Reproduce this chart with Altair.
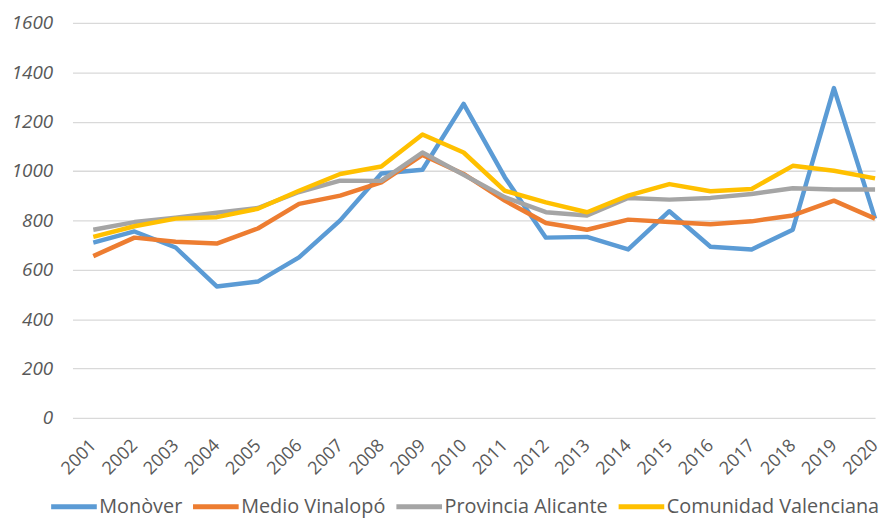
import altair as alt
import pandas as pd

years = list(range(2001, 2021))
series_names = ["Monòver", "Medio Vinalopó", "Provincia Alicante", "Comunidad Valenciana"]
colors = ["#5B9BD5", "#ED7D31", "#A5A5A5", "#FFC000"]

monover = [710, 755, 690, 532, 552, 650, 800, 990, 1005, 1272, 975, 730, 733, 682, 837, 693, 682, 762, 1336, 807]
medio = [655, 730, 713, 706, 767, 867, 900, 954, 1065, 988, 880, 789, 762, 803, 793, 784, 796, 820, 880, 807]
provincia = [762, 793, 811, 831, 850, 915, 961, 960, 1075, 985, 894, 833, 820, 891, 884, 891, 907, 930, 925, 925]
comunidad = [733, 776, 807, 813, 847, 920, 988, 1018, 1148, 1075, 920, 873, 833, 900, 947, 918, 927, 1021, 1001, 970]

y_ticks = [0, 200, 400, 600, 800, 1000, 1200, 1400, 1600]

rows = []
for name, vals in zip(series_names, [monover, medio, provincia, comunidad]):
    for yr, v in zip(years, vals):
        rows.append({"Año": yr, "Valor": v, "Serie": name})
df = pd.DataFrame(rows)

chart = (
    alt.Chart(df)
    .mark_line(strokeWidth=4.5, strokeJoin="round")
    .encode(
        x=alt.X(
            "Año:Q",
            scale=alt.Scale(domain=[2000.494, 2020.0], nice=False, zero=False),
            axis=alt.Axis(
                values=years,
                format="d",
                title=None,
                grid=False,
                ticks=False,
                domain=False,
                labelAngle=-45,
                labelAlign="right",
                labelBaseline="middle",
                labelPadding=25,
                labelFont="Open Sans",
                labelFontSize=18,
                labelColor="#595959",
                labelOverlap=False,
            ),
        ),
        y=alt.Y(
            "Valor:Q",
            scale=alt.Scale(domain=[0, 1600], nice=False),
            axis=alt.Axis(
                values=y_ticks,
                format="d",
                title=None,
                ticks=False,
                domain=False,
                labelPadding=20,
                labelFont="Open Sans",
                labelFontSize=19,
                labelFontStyle="italic",
                labelColor="#595959",
                gridColor="#d9d9d9",
                gridWidth=1.3,
            ),
        ),
        color=alt.Color(
            "Serie:N",
            scale=alt.Scale(domain=series_names, range=colors),
            sort=series_names,
            legend=alt.Legend(
                title=None,
                orient="none",
                direction="horizontal",
                legendX=-24,
                legendY=462,
                symbolType="stroke",
                symbolSize=2116,
                symbolStrokeWidth=5,
                labelFont="Open Sans",
                labelFontSize=20,
                labelColor="#595959",
                labelLimit=0,
                labelOffset=0,
                columnPadding=0,
                padding=0,
            ),
        ),
    )
    .properties(
        width=809,
        height=398,
        autosize=alt.AutoSizeParams(type="none"),
        padding={"left": 65, "top": 13, "right": 8, "bottom": 103},
    )
    .configure_view(stroke=None)
)

chart.save("out.html", embed_options={"renderer": "svg", "actions": False})
